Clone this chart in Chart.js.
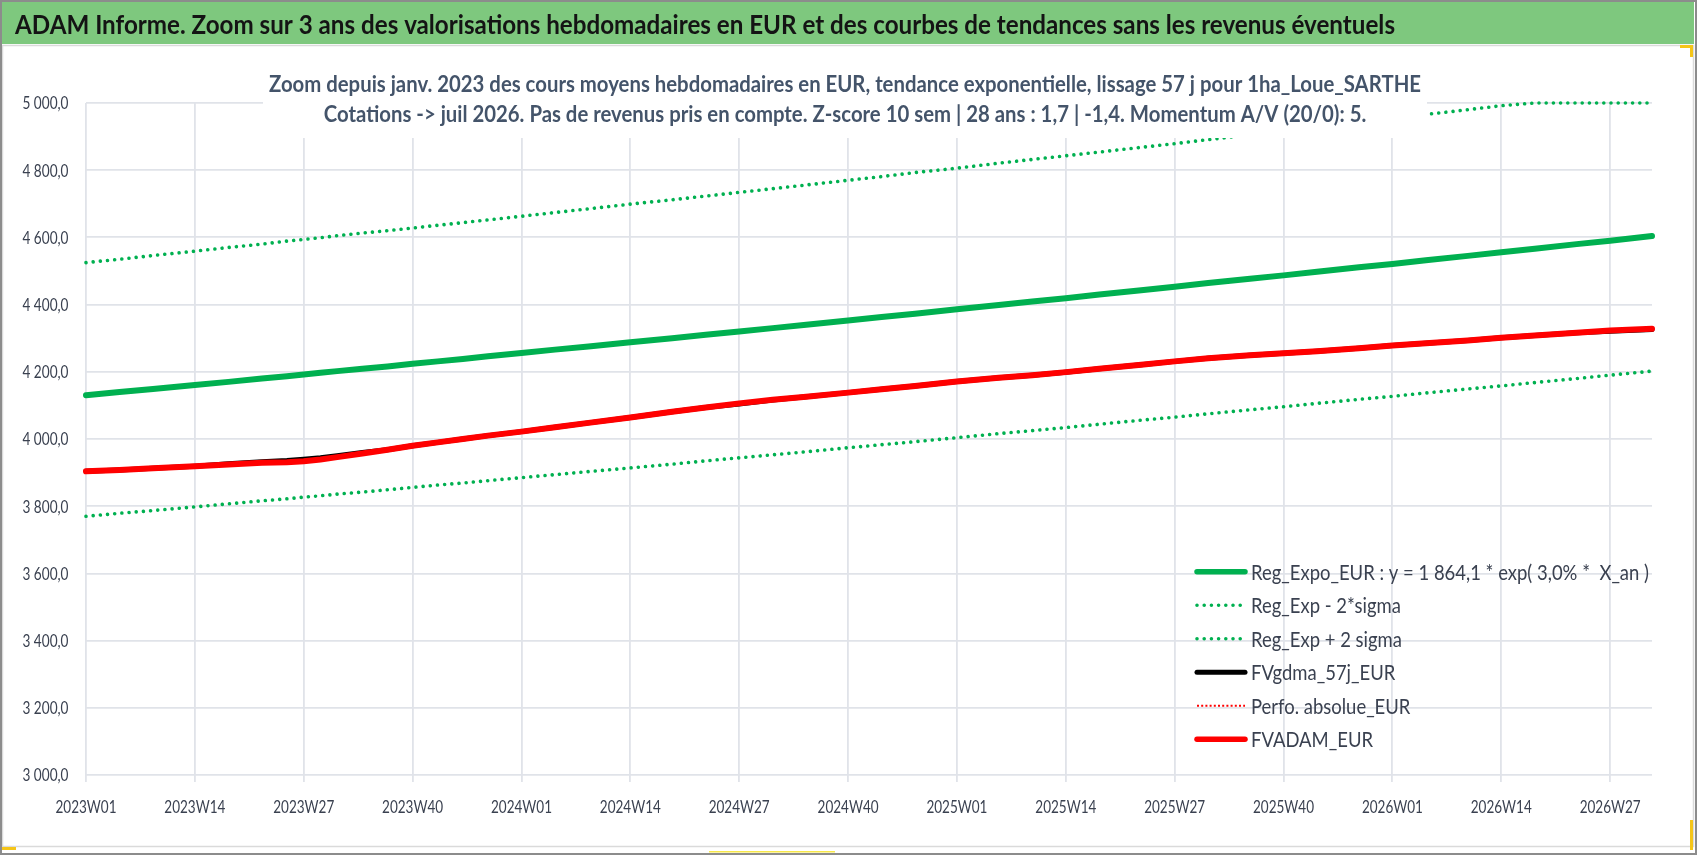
<!DOCTYPE html>
<html><head><meta charset="utf-8">
<script src="https://cdn.jsdelivr.net/npm/chart.js@4.4.1/dist/chart.umd.min.js"></script>
<style>html,body{margin:0;padding:0;background:#fff;overflow:hidden}canvas{display:block}</style>
</head><body>
<canvas id="c" width="1698" height="856"></canvas>
<script>
// ---------- texts ----------
const titleText = 'ADAM Informe. Zoom sur 3 ans des valorisations hebdomadaires en EUR et des courbes de tendances sans les revenus éventuels';
const subtitleLines = [
  'Zoom depuis janv. 2023 des cours moyens hebdomadaires en EUR, tendance exponentielle, lissage 57 j pour 1ha_Loue_SARTHE',
  'Cotations -> juil 2026. Pas de revenus pris en compte. Z-score 10 sem | 28 ans : 1,7 | -1,4. Momentum A/V (20/0): 5.'
];
const seriesNames = [
  'Reg_Expo_EUR : y = 1 864,1 * exp( 3,0% *  X_an )',
  'Reg_Exp - 2*sigma',
  'Reg_Exp + 2 sigma',
  'FVgdma_57j_EUR',
  'Perfo. absolue_EUR',
  'FVADAM_EUR'
];

// ---------- categories (ISO weeks) ----------
const weeksPerYear = [[2023, 52], [2024, 52], [2025, 52], [2026, 32]];
const categories = [];
weeksPerYear.forEach(([y, n]) => { for (let w = 1; w <= n; w++) categories.push(y + 'W' + String(w).padStart(2, '0')); });

const xTickLabels = ['2023W01','2023W14','2023W27','2023W40','2024W01','2024W14','2024W27','2024W40',
  '2025W01','2025W14','2025W27','2025W40','2026W01','2026W14','2026W27'];
const yMin = 3000, yMax = 5000, yStep = 200;

// ---------- sampled weeks where values were read ----------
const sampleWeeks = ['2023W01','2023W05','2023W09','2023W14','2023W18','2023W22','2023W25','2023W27','2023W29','2023W31',
  '2023W34','2023W37','2023W40','2023W43','2023W46','2023W49','2024W01','2024W05','2024W09','2024W14','2024W19','2024W23',
  '2024W27','2024W31','2024W35','2024W40','2024W44','2024W48','2025W01','2025W06','2025W10','2025W14','2025W18','2025W23',
  '2025W27','2025W31','2025W36','2025W40','2025W44','2025W49','2026W01','2026W05','2026W10','2026W14','2026W18','2026W23',
  '2026W27','2026W32'];

const regExpo = [4130,4140,4149,4161,4170,4180,4187,4192,4197,4202,4209,4216,4224,4231,4238,4246,4256,4266,4275,4288,4300,4310,
  4320,4330,4340,4353,4363,4373,4386,4399,4409,4419,4430,4443,4453,4464,4477,4487,4498,4511,4521,4532,4545,4556,4566,4580,4590,4604];
const regMinus2s = [3770,3779,3787,3798,3807,3816,3822,3827,3831,3836,3842,3849,3856,3863,3869,3876,3885,3894,3903,3914,3925,3935,
  3944,3953,3962,3974,3983,3992,4004,4016,4025,4034,4044,4056,4065,4075,4087,4096,4106,4118,4127,4137,4149,4158,4168,4180,4190,4202];
const regPlus2s = [4525,4535,4546,4559,4570,4580,4589,4594,4599,4605,4613,4620,4628,4636,4644,4652,4663,4674,4685,4699,4712,4723,
  4734,4745,4756,4770,4781,4793,4806,4821,4832,4843,4854,4868,4879,4891,4905,4916,4928,4943,4954,4966,4980,4992,5000,5000,5000,5000];
const fvgdma = [3904,3908,3913,3919,3926,3932,3936,3940,3944,3950,3960,3968,3980,3990,4000,4010,4022,4035,4048,4064,4081,4094,
  4104,4116,4126,4138,4148,4158,4171,4182,4190,4199,4209,4221,4231,4240,4249,4255,4261,4270,4278,4285,4293,4301,4308,4316,4321,4326];
const perfoAbs = [3904,3908,3913,3919,3924,3929,3931,3934,3939,3946,3957,3968,3980,3990,4000,4010,4022,4035,4048,4064,4081,4094,
  4106,4117,4126,4138,4148,4158,4171,4182,4190,4199,4209,4221,4231,4240,4249,4255,4261,4270,4278,4285,4293,4301,4308,4316,4323,4328];
const fvadam = [3904,3908,3913,3919,3924,3929,3931,3934,3939,3946,3957,3968,3980,3990,4000,4010,4022,4035,4048,4064,4081,4094,
  4106,4117,4126,4138,4148,4158,4171,4182,4190,4199,4209,4221,4231,4240,4249,4255,4261,4270,4278,4285,4293,4301,4308,4316,4323,4328];

const pts = vals => sampleWeeks.map((w, i) => ({ x: w, y: vals[i] }));

// ---------- style ----------
const FONT = 'Lato, "Open Sans", "DejaVu Sans", sans-serif';
const GREEN = '#00B050', RED = '#FF0000', GRID = '#E0E3E9', TXT = '#3A4150';
const DOT = [0.001, 7.2];

function widthAt(ctx, text, font) { ctx.font = font; return ctx.measureText(text).width; }
function drawNarrow(ctx, text, x, y, font, sx, align, color) {
  ctx.save();
  ctx.font = font; ctx.fillStyle = color; ctx.textAlign = align;
  ctx.translate(x, y); ctx.scale(sx, 1);
  ctx.fillText(text, 0, 0);
  ctx.restore();
}
function fmtY(v) { const s = String(Math.round(v)); return (s.length > 3 ? s.slice(0, -3) + ' ' + s.slice(-3) : s) + ',0'; }

const decor = {
  id: 'decor',
  beforeDraw(chart) {
    const ctx = chart.ctx, W = chart.width, H = chart.height;
    ctx.save();
    ctx.fillStyle = '#fff'; ctx.fillRect(0, 0, W, H);
    ctx.fillStyle = '#7EC87E'; ctx.fillRect(2, 2, W - 6, 42);
    ctx.strokeStyle = '#DADADA'; ctx.lineWidth = 1.5;
    ctx.strokeRect(2.5, 45.5, W - 7, H - 55);
    ctx.strokeStyle = '#8C8C8C'; ctx.lineWidth = 2;
    ctx.strokeRect(1, 1, W - 3, H - 3);
    ctx.fillStyle = '#F5C518';
    ctx.fillRect(2, 847, 14, 3); ctx.fillRect(1690, 820, 3, 30); ctx.fillRect(1680, 45, 12, 3); ctx.fillRect(1690, 45, 3, 12);
    ctx.fillStyle = '#F7E84A'; ctx.fillRect(709, 851, 126, 1.5);
    const f = 'bold 27px ' + FONT;
    const sx = 1380 / widthAt(ctx, titleText, f);
    ctx.textBaseline = 'alphabetic';
    drawNarrow(ctx, titleText, 15, 33.5, f, sx, 'left', '#141414');
    ctx.restore();
  },
  afterDatasetsDraw(chart) {
    const ctx = chart.ctx;
    ctx.save();
    ctx.fillStyle = '#fff'; ctx.fillRect(263, 56, 1164, 82);
    const f = 'bold 23px ' + FONT;
    ctx.textBaseline = 'alphabetic';
    const s1 = 1152 / widthAt(ctx, subtitleLines[0], f);
    drawNarrow(ctx, subtitleLines[0], 845, 91.7, f, s1, 'center', '#44546A');
    drawNarrow(ctx, subtitleLines[1], 845, 121.7, f, s1, 'center', '#44546A');
    // legend
    const x0 = 1197, x1 = 1245, tx = 1251, y0 = 571.7, dy = 33.5;
    const lf = 'normal 22px ' + FONT;
    const lsx = 398 / widthAt(ctx, seriesNames[0], lf);
    ctx.textBaseline = 'middle';
    chart.data.datasets.forEach((ds, i) => {
      const y = y0 + i * dy;
      ctx.save();
      ctx.strokeStyle = ds.borderColor; ctx.lineWidth = ds.legendWidth || ds.borderWidth;
      ctx.lineCap = ds.borderCapStyle || 'butt';
      ctx.setLineDash(ds.legendDash || ds.borderDash || []);
      ctx.beginPath(); ctx.moveTo(x0, y); ctx.lineTo(x1, y); ctx.stroke();
      ctx.restore();
      drawNarrow(ctx, ds.label, tx, y + 1, lf, lsx, 'left', TXT);
    });
    ctx.restore();
  },
  afterDraw(chart) {
    const ctx = chart.ctx, xs = chart.scales.x, ys = chart.scales.y;
    ctx.save();
    ctx.textBaseline = 'middle';
    const tf = 'normal 18px ' + FONT;
    const xsx = 61 / widthAt(ctx, '2023W01', tf);
    xs.ticks.forEach((t, i) => {
      if (t.label == null || t.label === '') return;
      drawNarrow(ctx, t.label, xs.getPixelForTick(i), 807, tf, xsx, 'center', TXT);
    });
    const ysx = 46 / widthAt(ctx, '5 000,0', tf);
    ys.ticks.forEach((t, i) => {
      drawNarrow(ctx, fmtY(t.value), 68.5, ys.getPixelForTick(i) + 0.5, tf, ysx, 'right', TXT);
    });
    ctx.restore();
  }
};

const common = { pointRadius: 0, pointHoverRadius: 0, fill: false, tension: 0, clip: 5 };
new Chart(document.getElementById('c'), {
  type: 'line',
  data: {
    labels: categories,
    datasets: [
      { ...common, label: seriesNames[0], data: pts(regExpo), borderColor: GREEN, borderWidth: 6, borderCapStyle: 'round', legendWidth: 5.5, order: 6 },
      { ...common, label: seriesNames[1], data: pts(regMinus2s), borderColor: GREEN, borderWidth: 3.6, borderDash: DOT, borderCapStyle: 'round', order: 5 },
      { ...common, label: seriesNames[2], data: pts(regPlus2s), borderColor: GREEN, borderWidth: 3.6, borderDash: DOT, borderCapStyle: 'round', order: 4 },
      { ...common, label: seriesNames[3], data: pts(fvgdma), borderColor: '#000', borderWidth: 5, borderCapStyle: 'round', order: 3 },
      { ...common, label: seriesNames[4], data: pts(perfoAbs), borderColor: RED, borderWidth: 2, borderDash: [2, 2.2], order: 2 },
      { ...common, label: seriesNames[5], data: pts(fvadam), borderColor: RED, borderWidth: 6, borderCapStyle: 'round', legendWidth: 5.5, order: 1 }
    ]
  },
  options: {
    responsive: false, animation: false, devicePixelRatio: 1,
    layout: { padding: { left: 0, top: 103, right: 46, bottom: 1 } },
    plugins: { legend: { display: false }, title: { display: false }, tooltip: { enabled: false } },
    scales: {
      x: {
        type: 'category',
        afterFit: s => { s.height = 80; },
        grid: { color: GRID, lineWidth: 1.8, drawTicks: true, tickLength: 7, tickColor: GRID },
        border: { display: false },
        ticks: {
          autoSkip: false, maxRotation: 0, minRotation: 0, padding: 8,
          color: 'rgba(0,0,0,0)', font: { family: FONT, size: 16 },
          callback: function (v) { const l = this.getLabelForValue(v); return xTickLabels.includes(l) ? l : null; }
        }
      },
      y: {
        min: yMin, max: yMax,
        afterFit: s => { s.width = 86; },
        grid: { color: GRID, lineWidth: 1.8, drawTicks: false },
        border: { display: false },
        ticks: { stepSize: yStep, padding: 18, color: 'rgba(0,0,0,0)', font: { family: FONT, size: 16 }, callback: fmtY }
      }
    }
  },
  plugins: [decor]
});
</script>
</body></html>
